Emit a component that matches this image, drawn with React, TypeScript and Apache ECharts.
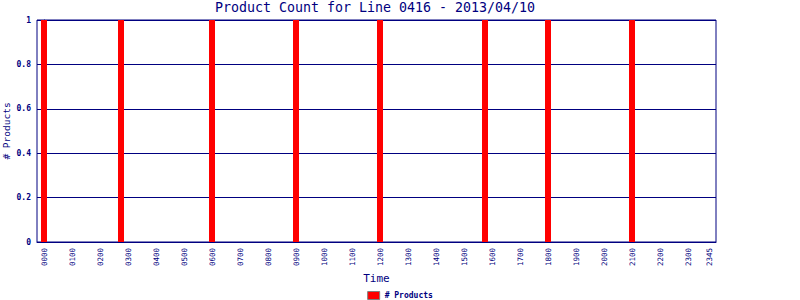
import React, { useEffect, useRef } from "react";
import * as echarts from "echarts";

const chartTitle = "Product Count for Line 0416 - 2013/04/10";
const seriesName = "# Products";
const barTimes = ["0000", "0245", "0600", "0900", "1200", "1545", "1800", "2100"];
const barValues = [1, 1, 1, 1, 1, 1, 1, 1];
const tickLabels = [
  "0000", "0100", "0200", "0300", "0400", "0500", "0600", "0700", "0800", "0900",
  "1000", "1100", "1200", "1300", "1400", "1500", "1600", "1700", "1800", "1900",
  "2000", "2100", "2200", "2300", "2345",
];
const yTicks = [0, 0.2, 0.4, 0.6, 0.8, 1];

const toMinutes = (hhmm: string) => parseInt(hhmm.slice(0, 2), 10) * 60 + parseInt(hhmm.slice(2), 10);
const NAVY = "#000080";
const FONT = "DejaVu Sans Mono";

export default function App() {
  const ref = useRef<HTMLDivElement>(null);
  useEffect(() => {
    if (!ref.current) return;
    const chart = echarts.init(ref.current, undefined, { renderer: "svg" });
    const labelMap: Record<number, string> = {};
    tickLabels.forEach((t) => (labelMap[toMinutes(t)] = t));
    chart.setOption({
      animation: false,
      backgroundColor: "#ffffff",
      title: {
        text: chartTitle,
        left: 375,
        top: 1,
        padding: 0,
        textAlign: "center",
        textStyle: { fontFamily: FONT, fontSize: 13.3, fontWeight: "normal", color: NAVY },
      },
      legend: {
        data: [seriesName],
        left: "center",
        top: 291,
        padding: 0,
        itemWidth: 12,
        itemHeight: 8,
        itemGap: 4,
        icon: "rect",
        itemStyle: { borderColor: "#808080", borderWidth: 1 },
        textStyle: { fontFamily: FONT, fontSize: 8, fontWeight: "bold", color: NAVY },
      },
      grid: {
        left: 37,
        top: 20,
        width: 679,
        height: 222,
        outerBoundsMode: "none",
        containLabel: false,
        show: true,
        borderColor: NAVY,
        borderWidth: 1,
        backgroundColor: "#ffffff",
      },
      xAxis: {
        type: "value",
        min: -15,
        max: 1440,
        interval: 15,
        name: "Time",
        nameLocation: "middle",
        nameGap: 31,
        nameMoveOverlap: false,
        nameTextStyle: { fontFamily: FONT, fontSize: 11, color: NAVY },
        axisLine: { show: true, lineStyle: { color: NAVY, width: 1 } },
        axisTick: { show: false },
        splitLine: { show: false },
        axisLabel: {
          rotate: 90,
          margin: 6,
          fontFamily: FONT,
          fontSize: 7.5,
          color: NAVY,
          showMinLabel: true,
          showMaxLabel: true,
          hideOverlap: false,
          formatter: (v: number) => labelMap[v] ?? "",
        },
      },
      yAxis: {
        type: "value",
        min: 0,
        max: 1,
        interval: 0.2,
        name: seriesName,
        nameLocation: "middle",
        nameGap: 26,
        nameMoveOverlap: false,
        nameTextStyle: { fontFamily: FONT, fontSize: 9.5, color: NAVY },
        axisLine: { show: true, lineStyle: { color: NAVY, width: 1 } },
        axisTick: { show: false },
        splitLine: { show: true, lineStyle: { color: NAVY, width: 1 } },
        axisLabel: {
          margin: 6,
          fontFamily: FONT,
          fontSize: 8,
          fontWeight: "bold",
          color: NAVY,
          formatter: (v: number) => (yTicks.some((t) => Math.abs(t - v) < 1e-9) ? String(+v.toFixed(1)) : ""),
        },
      },
      series: [
        {
          name: seriesName,
          type: "bar",
          barWidth: 6,
          itemStyle: { color: "#ff0000" },
          data: barTimes.map((t, i) => [toMinutes(t), barValues[i]]),
        },
      ],
    });
    return () => chart.dispose();
  }, []);
  return <div ref={ref} style={{ position: "fixed", left: 0, top: 0, width: 800, height: 300 }} />;
}
